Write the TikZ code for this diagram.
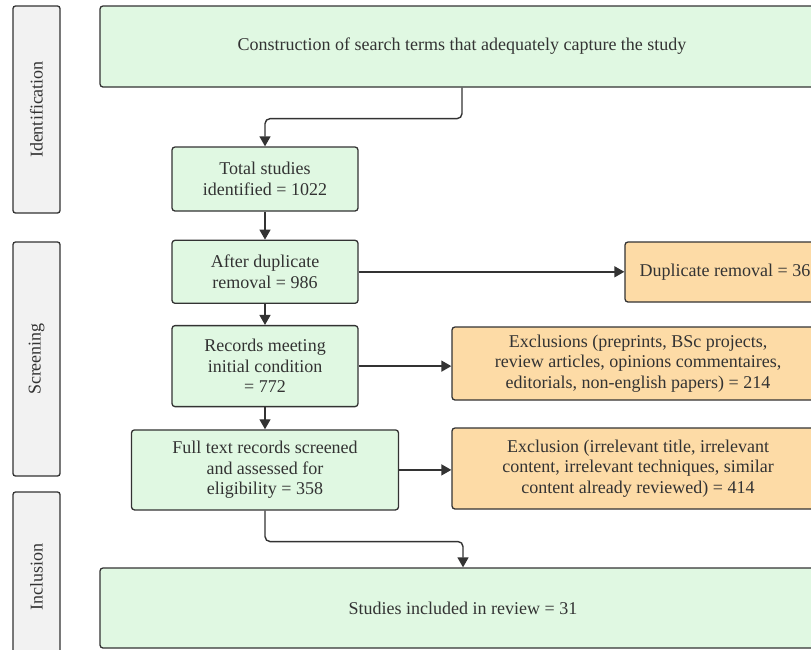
\documentclass[tikz,border=0pt]{standalone}
\usepackage{fontspec}
\setmainfont{Liberation Serif}
\newfontfamily\flowfont{Liberation Serif}
\usepackage{tikz}
\usetikzlibrary{positioning,arrows.meta}

\definecolor{boxgreen}{HTML}{E0F8E2}
\definecolor{boxorange}{HTML}{FDDBA6}
\definecolor{bandgray}{HTML}{F2F2F2}
\definecolor{linegray}{HTML}{333333}

\tikzset{
  stage/.style={draw=linegray,fill=bandgray,line width=1.3pt,rounded corners=2.5pt,
    rotate=90,minimum height=47pt,inner sep=0pt,text=linegray},
  flowbox/.style={draw=linegray,fill=boxgreen,line width=1.3pt,rounded corners=3pt,
    align=center,inner sep=0pt,text=linegray},
  exclbox/.style={flowbox,fill=boxorange},
  flowarrow/.style={-{Triangle[length=10pt,width=11pt]},line width=1.4pt,draw=linegray,rounded corners=5pt}
}

\begin{document}
\begin{tikzpicture}[x=1pt,y=-1pt,font=\flowfont\fontsize{18}{20.5}\selectfont]
              \clip (0,0) rectangle (811,649);

              % side bands
              \node[stage,minimum width=207pt] (ident) at (36.5,109.5) {Identification};
              \node[stage,minimum width=234pt] (screen) at (36.5,359) {Screening};
              \node[stage,minimum width=170pt] (incl) at (36.5,577) {Inclusion};

              % main column
              \node[flowbox,minimum width=724pt,minimum height=81pt] (search) at (462,46.5) {Construction of search terms that adequately capture the study};
              \node[flowbox,minimum width=186pt,minimum height=64pt] (total) at (265,179) {Total studies\\identified = 1022};
              \node[flowbox,minimum width=186pt,minimum height=63pt,below=28pt of total] (dedup) {After duplicate\\removal = 986};
              \node[flowbox,minimum width=186pt,minimum height=81pt,below=21pt of dedup] (records) {Records meeting\\initial condition\\= 772};
              \node[flowbox,minimum width=267pt,minimum height=80pt,below=22pt of records] (fulltext) {Full text records screened\\and assessed for\\eligibility = 358};
              \node[flowbox,minimum width=726pt,minimum height=80pt] (included) at (463,608) {Studies included in review = 31};

              % exclusions
              \node[exclbox,minimum width=200pt,minimum height=60pt] (dupremoved) at (725,272) {Duplicate removal = 36};
              \node[exclbox,minimum width=372pt,minimum height=73pt] (exclA) at (638,363.5) {Exclusions (preprints, BSc projects,\\review articles, opinions commentaires,\\editorials, non-english papers) = 214};
              \node[exclbox,minimum width=372pt,minimum height=81pt] (exclB) at (638,468.5) {Exclusion (irrelevant title, irrelevant\\content, irrelevant techniques, similar\\content already reviewed) = 414};

              %down the column
              \draw[flowarrow] (search.south) -- ++(0,31) -| (total.north);
              \draw[flowarrow] (total) -- (dedup);
              \draw[flowarrow] (dedup) -- (records);
              \draw[flowarrow] (records) -- (fulltext);
              \draw[flowarrow] (fulltext.south) -- ++(0,31) -| (included.north);

              %to the right
              \draw[flowarrow] (dedup.east) -- (dupremoved.west |- dedup.east);
              \draw[flowarrow] (records.east) -- (exclA.west |- records.east);
              \draw[flowarrow] (fulltext.east) -- (exclB.west |- fulltext.east);
            \end{tikzpicture}
\end{document}
